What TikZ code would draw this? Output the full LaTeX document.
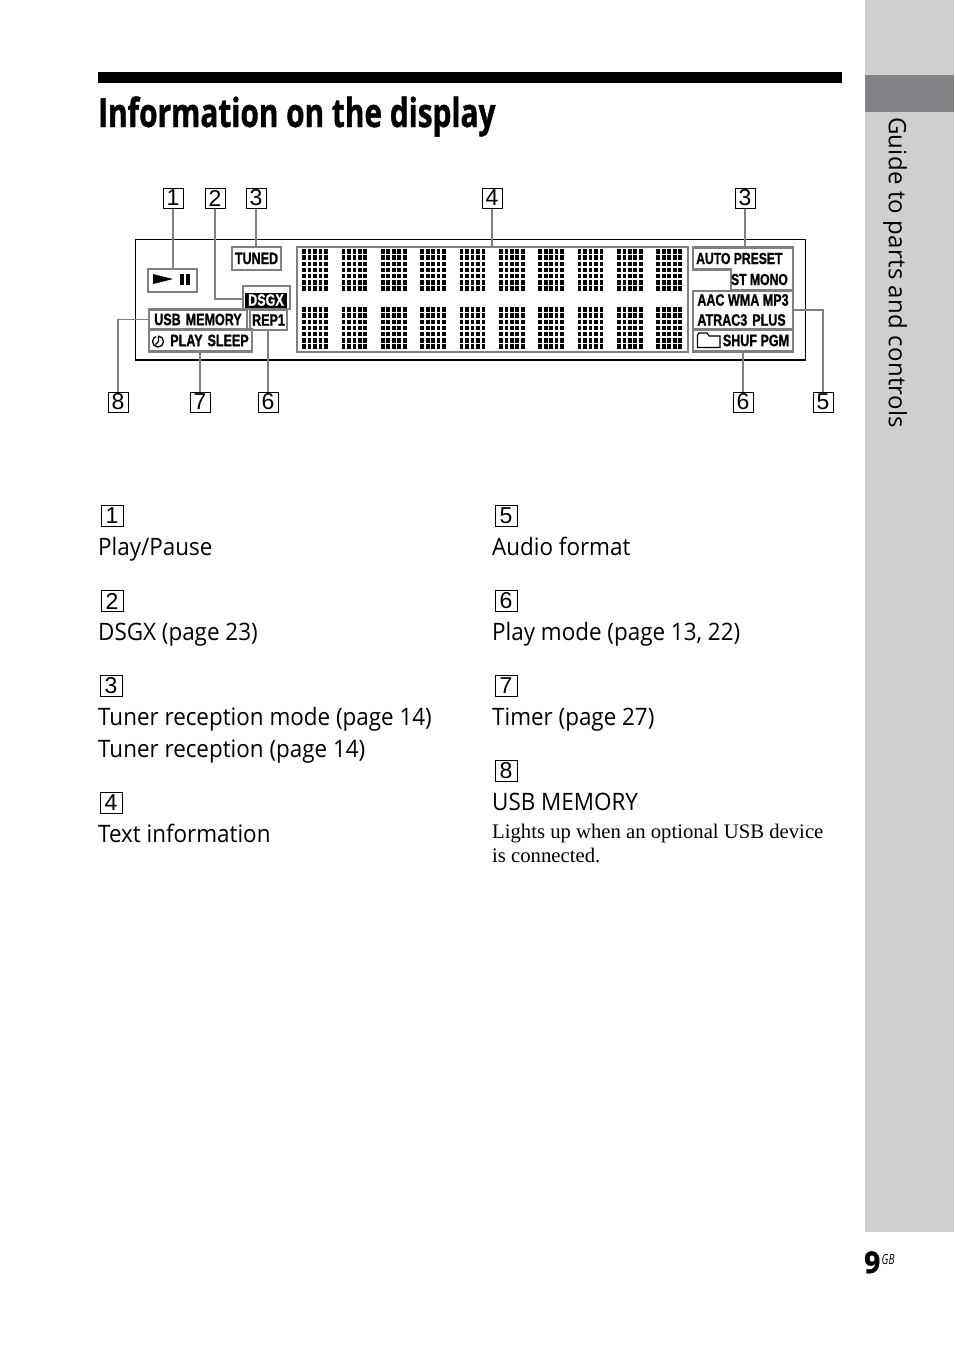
\documentclass[tikz,border=0pt]{standalone}
\usepackage{fontspec}
\setmainfont{Liberation Serif}
\newfontfamily\bodyfont[FakeStretch=0.934,BoldFeatures={FakeBold=1.5}]{Open Sans}
\newfontfamily\titlefont[FakeStretch=0.745,BoldFeatures={FakeBold=1}]{Open Sans}
\newfontfamily\sidefont[LetterSpace=1]{Open Sans}
\newfontfamily\gbfont[FakeStretch=0.72]{Open Sans}
\newfontfamily\dispfont[FakeStretch=0.76,BoldFeatures={FakeBold=1}]{Liberation Sans}
\newfontfamily\numfont{Liberation Sans}
\colorlet{sideG}{black!19}
\definecolor{sideD}{RGB}{128,130,133}
\colorlet{frameG}{black!50}
\tikzstyle{numbox}=[draw=black, fill=white, line width=1pt, inner sep=0pt, minimum width=20pt, minimum height=20pt, font=\numfont\fontsize{23}{23}\selectfont]
\tikzstyle{listbox}=[numbox, minimum width=22pt, minimum height=21pt]
\tikzstyle{panel}=[draw=frameG, line width=2.5pt, inner sep=0pt, font=\dispfont\bfseries\fontsize{16.5}{17}\selectfont]
\tikzstyle{lead}=[draw=frameG, line width=1.8pt]
\tikzstyle{item}=[anchor=base west, inner sep=0pt, font=\bodyfont\fontsize{24}{24}\selectfont]
\tikzstyle{note}=[anchor=base west, inner sep=0pt, font=\fontsize{20.7}{21}\selectfont]

\begin{document}
\begin{tikzpicture}[x=1pt, y=-1pt]
	\useasboundingbox (0,0) rectangle (954,1357);

	% Side tab and heading
	\fill[sideG] (865,0) rectangle (954,1232);
	\fill[sideD] (865,75) rectangle (954,112);
	\fill[black] (98,72) rectangle (842,83);
	\node[anchor=base west, inner sep=0pt, font=\titlefont\bfseries\fontsize{40}{40}\selectfont] (title) at (98,127) {Information on the display};
	\node[rotate=-90, inner sep=0pt, font=\sidefont\fontsize{24}{24}\selectfont] (sidetext) at (895,272.5) {Guide to parts and controls};
	\node[anchor=base west, inner sep=0pt, font=\bodyfont\bfseries\fontsize{30}{30}\selectfont] (pageno) at (864,1273) {9};
	\node[anchor=base west, inner sep=0pt, font=\gbfont\itshape\fontsize{14}{14}\selectfont] (pagegb) at (881.5,1264) {GB};

	% Display outline
	\draw[black, line width=1.6pt] (135.5,239.5) rectangle (805.5,360);

	% Segments of the text area
	\foreach \c in {0,...,9}{
		\foreach \r in {0,...,6}{
			\foreach \d in {0,...,4}{
				\fill[black] ({302.3+39.35*\c+5.45*\d},{249.2+6.2*\r}) rectangle +(3.7,4.4);
				\fill[black] ({302.3+39.35*\c+5.45*\d},{307.2+6.2*\r}) rectangle +(3.7,4.4);
			}
		}
	}

	% Frames on the display
	\node[panel, minimum width=391pt, minimum height=105pt] (textfr) at (492.5,299.5) {};
	\node[panel, minimum width=49pt, minimum height=23pt] (playfr) at (172.5,280.5) {};
	\node[panel, minimum width=49pt, minimum height=23pt] (tunedfr) at (256.5,258.5) {TUNED};
	\node[panel, minimum width=47pt, minimum height=23pt] (dsgxfr) at (266.5,297.5) {};
	\node[fill=black, text=white, inner sep=0pt, minimum width=42pt, minimum height=15pt, font=\dispfont\bfseries\fontsize{16.5}{17}\selectfont] (dsgxtxt) at (266,300) {DSGX};
	\node[panel, minimum width=37pt, minimum height=20pt] (repfr) at (268.5,320) {REP1};
	\node[panel, minimum width=98pt, minimum height=20pt] (usbfr) at (198,319.5) {USB\hspace{5pt}MEMORY};
	\node[panel, minimum width=103pt, minimum height=22pt] (sleepfr) at (200.5,340.5) {\hspace*{18pt}PLAY\hspace{5pt}SLEEP};
	\node[panel, minimum width=100pt, minimum height=38pt, align=left] (audiofr) at (743,310) {AAC WMA MP3\\[3pt]ATRAC3\hspace{5pt}PLUS};
	\node[panel, minimum width=100pt, minimum height=22pt] (shuffr) at (743,340.5) {\hspace*{26pt}SHUF PGM};

	% Tuner frame with its step
	\draw[frameG, line width=2.5pt] (693,247.5) -- (793,247.5) -- (793,290) -- (731,290) -- (731,269.5) -- (693,269.5) -- cycle;
	\coordinate (tunerfr) at (743,247.5);
	\node[anchor=west, inner sep=0pt, font=\dispfont\bfseries\fontsize{16}{17}\selectfont] (autotxt) at (696,258.5) {AUTO PRESET};
	\node[anchor=east, inner sep=0pt, font=\dispfont\bfseries\fontsize{16}{17}\selectfont] (monotxt) at (788,279.5) {ST MONO};

	% Icons
	\fill[black] (153,274) -- (173,279) -- (153,284) -- cycle;
	\fill[black] (180,274) rectangle (183.5,285);
	\fill[black] (185.5,274) rectangle (189.5,285);
	\draw[black, line width=1.3pt] (158,341.5) circle[radius=5.5];
	\draw[white, line width=2pt] (155.5,336) -- (157.5,336);
	\draw[black, line width=1.3pt] (158.5,336) -- (158.5,341.5) -- (155.5,344.5);
	\draw[black, line width=1.1pt] (697.5,347.5) -- (697.5,335) -- (699,333) -- (707,333) -- (709,336) -- (720,336) -- (720,347.5) -- cycle;

	% Callout numbers
	\node[numbox] (top1) at (173,198) {1};
	\node[numbox] (top2) at (215,198) {2};
	\node[numbox] (top3) at (256,198) {3};
	\node[numbox] (top4) at (492,198) {4};
	\node[numbox] (top5) at (745,198) {3};
	\node[numbox] (low8) at (118,402) {8};
	\node[numbox] (low7) at (200,402) {7};
	\node[numbox] (low6) at (268,402) {6};
	\node[numbox] (low3) at (743,402) {6};
	\node[numbox] (low5) at (823,402) {5};
	\coordinate (dsgxin) at (243,299);
	\coordinate (audioin) at (793,310);

	\draw[lead] (top1.south) -- (top1 |- playfr.north);
	\draw[lead] (top2.south) |- (dsgxin);
	\draw[lead] (top3.south) -- (top3 |- tunedfr.north);
	\draw[lead] (top4.south) -- (top4 |- textfr.north);
	\draw[lead] (top5.south) -- (top5 |- tunerfr);
	\draw[lead] (low8.north) |- (usbfr.west);
	\draw[lead] (low7.north) -- (low7 |- sleepfr.south);
	\draw[lead] (low6.north) -- (low6 |- repfr.south);
	\draw[lead] (low3.north) -- (low3 |- shuffr.south);
	\draw[lead] (low5.north) |- (audioin);

	% Left list
	\node[listbox] (list1) at (112,516) {1};
	\node[item] (play) at (98,555) {Play/Pause};
	\node[listbox] (list2) at (112,601) {2};
	\node[item] (dsgx) at (98,640) {DSGX (page 23)};
	\node[listbox] (list3) at (111,686) {3};
	\node[item] (mode) at (98,725) {Tuner reception mode (page 14)};
	\node[item] (recv) at (98,757) {Tuner reception (page 14)};
	\node[listbox] (list4) at (111,803) {4};
	\node[item] (info) at (98,842) {Text information};

	% Right list
	\node[listbox] (list5) at (506,516) {5};
	\node[item] (audio) at (492,555) {Audio format};
	\node[listbox] (list6) at (506,601) {6};
	\node[item] (pmode) at (492,640) {Play mode (page 13, 22)};
	\node[listbox] (list7) at (506,686) {7};
	\node[item] (timer) at (492,725) {Timer (page 27)};
	\node[listbox] (list8) at (506,771) {8};
	\node[item] (usb) at (492,810) {USB MEMORY};
	\node[note] (usbnote) at (492,838) {Lights up when an optional USB device};
	\node[note] (usbnotb) at (492,862) {is connected.};
\end{tikzpicture}
\end{document}
